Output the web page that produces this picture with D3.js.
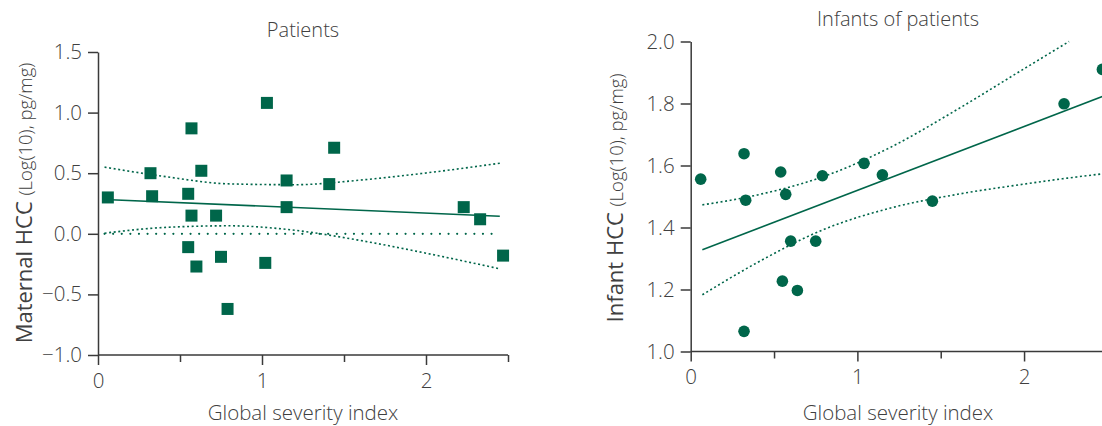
<!DOCTYPE html>
<html>
<head>
<meta charset="utf-8">
<script src="https://cdn.jsdelivr.net/npm/d3@7"></script>
<style>
  html, body { margin: 0; padding: 0; background: #fff; }
  svg { display: block; }
  text { font-family: "Open Sans", "Noto Sans", sans-serif; fill: #404040; }
</style>
</head>
<body>
<svg id="chart" width="1102" height="426"></svg>
<script>
// ---------- Data: Patients (maternal HCC) ----------
const patientsGSI = [0.06, 0.32, 0.33, 0.57, 0.63, 0.55, 0.57, 0.72, 0.55, 0.60, 0.75, 0.79, 1.03, 1.02, 1.15, 1.15, 1.44, 1.41, 2.23, 2.33, 2.47];
const patientsHCC = [0.30, 0.50, 0.31, 0.87, 0.52, 0.33, 0.15, 0.15, -0.11, -0.27, -0.19, -0.62, 1.08, -0.24, 0.44, 0.22, 0.71, 0.41, 0.22, 0.12, -0.18];
const patientsFitX = [0.04, 2.45];
const patientsFitY = [0.283, 0.145];
const patientsBandX = [0.04, 0.4, 0.8, 1.2, 1.6, 2.0, 2.45];
const patientsBandUpper = [0.550, 0.474, 0.412, 0.405, 0.443, 0.502, 0.582];
const patientsBandLower = [0.005, 0.052, 0.066, 0.029, -0.055, -0.160, -0.289];
const patientsZeroX = [0.04, 2.45];

// ---------- Data: Infants of patients ----------
const infantsGSI = [0.06, 0.32, 0.33, 0.32, 0.54, 0.57, 0.60, 0.55, 0.64, 0.75, 0.79, 1.04, 1.15, 1.45, 2.24, 2.47];
const infantsHCC = [1.556, 1.638, 1.488, 1.065, 1.579, 1.507, 1.356, 1.227, 1.197, 1.356, 1.567, 1.607, 1.570, 1.485, 1.799, 1.910];
const infantsFitX = [0.07, 2.5];
const infantsFitY = [1.328, 1.829];
const infantsUpperX = [0.07, 0.4, 0.8, 1.2, 1.6, 2.0, 2.27];
const infantsUpper = [1.473, 1.505, 1.565, 1.659, 1.781, 1.912, 2.0];
const infantsLowerX = [0.07, 0.4, 0.8, 1.2, 1.6, 2.0, 2.27, 2.5];
const infantsLower = [1.183, 1.287, 1.394, 1.463, 1.507, 1.540, 1.560, 1.575];

// ---------- Axis ticks ----------
const xMajorTicks = [0, 1, 2];
const xMinorTicks = [0.5, 1.5, 2.5];
const patientsYTicks = [-1.0, -0.5, 0.0, 0.5, 1.0, 1.5];
const infantsYTicks = [1.0, 1.2, 1.4, 1.6, 1.8, 2.0];

const GREEN = "#00664a";
const AXIS = "#3a3a3a";
const svg = d3.select("#chart");

function fmtY(v) {
  const s = v.toFixed(1);
  return v < 0 ? "\u2212" + s.slice(1) : s;
}

function panel(cfg) {
  const x = d3.scaleLinear().domain([0, 2.5]).range([cfg.x0, cfg.x1]);
  const y = d3.scaleLinear().domain(cfg.yDomain).range([cfg.y0, cfg.y1]);
  const g = svg.append("g");

  // x axis major
  const xa = g.append("g").attr("transform", `translate(0,${cfg.y0})`)
    .call(d3.axisBottom(x).tickValues(xMajorTicks).tickSize(10).tickSizeOuter(0).tickPadding(8).tickFormat(d3.format("d")));
  xa.select(".domain").attr("stroke", AXIS).attr("stroke-width", 1.5).attr("d", `M${cfg.x0},0H${Math.min(cfg.x1, 1102)}`);
  xa.selectAll(".tick line").attr("stroke", AXIS).attr("stroke-width", 1.5);
  xa.selectAll(".tick text").attr("font-size", 20.5).attr("font-family", "Open Sans, sans-serif").attr("fill", "#404040").attr("font-weight", 300);
  // x axis minor
  const xm = g.append("g").attr("transform", `translate(0,${cfg.y0})`)
    .call(d3.axisBottom(x).tickValues(xMinorTicks).tickSize(7).tickSizeOuter(0).tickFormat(""));
  xm.select(".domain").remove();
  xm.selectAll(".tick line").attr("stroke", AXIS).attr("stroke-width", 1.5);

  // y axis
  const ya = g.append("g").attr("transform", `translate(${cfg.x0},0)`)
    .call(d3.axisLeft(y).tickValues(cfg.yTicks).tickSize(10).tickSizeOuter(0).tickPadding(6).tickFormat(fmtY));
  ya.select(".domain").attr("stroke", AXIS).attr("stroke-width", 1.5);
  ya.selectAll(".tick line").attr("stroke", AXIS).attr("stroke-width", 1.5);
  ya.selectAll(".tick text").attr("font-size", 20.5).attr("font-family", "Open Sans, sans-serif").attr("fill", "#404040").attr("font-weight", 300);

  const line = d3.line().x(d => x(d[0])).y(d => y(d[1]));
  const curve = d3.line().x(d => x(d[0])).y(d => y(d[1])).curve(d3.curveMonotoneX);

  // confidence bands
  g.append("path").datum(cfg.upperX.map((v, i) => [v, cfg.upper[i]]))
    .attr("d", curve).attr("fill", "none").attr("stroke", GREEN).attr("stroke-width", 1.6).attr("stroke-dasharray", "2,2.6");
  g.append("path").datum(cfg.lowerX.map((v, i) => [v, cfg.lower[i]]))
    .attr("d", curve).attr("fill", "none").attr("stroke", GREEN).attr("stroke-width", 1.6).attr("stroke-dasharray", "2,2.6");

  if (cfg.zeroX) {
    g.append("path").datum(cfg.zeroX.map(v => [v, 0]))
      .attr("d", line).attr("fill", "none").attr("stroke", GREEN).attr("stroke-width", 2.2)
      .attr("stroke-linecap", "round").attr("stroke-dasharray", "0,8.6");
  }

  // regression line
  g.append("path").datum(cfg.fitX.map((v, i) => [v, cfg.fitY[i]]))
    .attr("d", line).attr("fill", "none").attr("stroke", GREEN).attr("stroke-width", 1.6);

  // points
  const pts = cfg.px.map((v, i) => [v, cfg.py[i]]);
  if (cfg.shape === "square") {
    const s = 12;
    g.selectAll("rect.pt").data(pts).join("rect").attr("class", "pt")
      .attr("x", d => x(d[0]) - s / 2).attr("y", d => y(d[1]) - s / 2)
      .attr("width", s).attr("height", s).attr("fill", GREEN);
  } else {
    g.selectAll("circle.pt").data(pts).join("circle").attr("class", "pt")
      .attr("cx", d => x(d[0])).attr("cy", d => y(d[1])).attr("r", 5.8).attr("fill", GREEN);
  }

  // title
  g.append("text").attr("x", cfg.titleX).attr("y", cfg.titleY).attr("text-anchor", "middle")
    .attr("font-size", 20).attr("font-weight", 300).text(cfg.title);
  // x label
  g.append("text").attr("x", cfg.xLabelX).attr("y", 420).attr("text-anchor", "middle")
    .attr("font-size", 20.5).attr("font-weight", 300).text("Global severity index");
  // y label
  const yl = g.append("text").attr("transform", `translate(${cfg.yLabelX},${cfg.yLabelY}) rotate(-90)`)
    .attr("text-anchor", "middle");
  yl.append("tspan").attr("font-size", 22).text(cfg.yLabelMain + " ");
  yl.append("tspan").attr("font-size", 18.5).attr("font-weight", 300).text("(Log(10), pg/mg)");
}

panel({
  x0: 98, x1: 508, y0: 355, y1: 52, yDomain: [-1.0, 1.5], yTicks: patientsYTicks,
  px: patientsGSI, py: patientsHCC, shape: "square",
  fitX: patientsFitX, fitY: patientsFitY,
  upperX: patientsBandX, upper: patientsBandUpper,
  lowerX: patientsBandX, lower: patientsBandLower,
  zeroX: patientsZeroX,
  title: "Patients", titleX: 303, titleY: 37,
  xLabelX: 303, yLabelX: 32, yLabelY: 203, yLabelMain: "Maternal HCC"
});

panel({
  x0: 690.7, x1: 1107.4, y0: 351.5, y1: 41.5, yDomain: [1.0, 2.0], yTicks: infantsYTicks,
  px: infantsGSI, py: infantsHCC, shape: "circle",
  fitX: infantsFitX, fitY: infantsFitY,
  upperX: infantsUpperX, upper: infantsUpper,
  lowerX: infantsLowerX, lower: infantsLower,
  zeroX: null,
  title: "Infants of patients", titleX: 898, titleY: 26,
  xLabelX: 898, yLabelX: 623, yLabelY: 198, yLabelMain: "Infant HCC"
});
</script>
</body>
</html>
